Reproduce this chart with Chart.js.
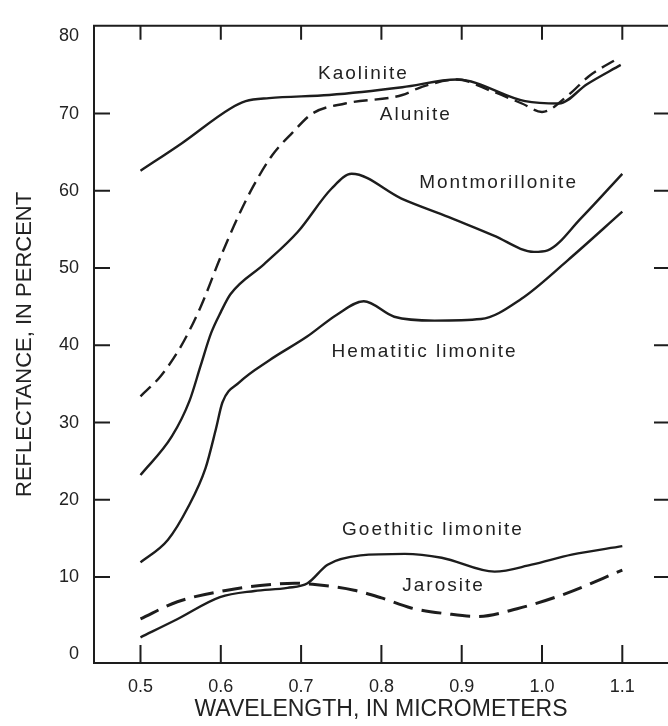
<!DOCTYPE html>
<html>
<head>
<meta charset="utf-8">
<script src="https://cdn.jsdelivr.net/npm/chart.js@4"></script>
<style>
  html, body { margin: 0; padding: 0; background: #fff; }
  #wrap { width: 668px; height: 726px; position: relative; }
</style>
</head>
<body>
<div id="wrap"><canvas id="spectra"></canvas></div>
<script>
// Reflectance spectra, wavelength in micrometers vs percent reflectance
const kaoliniteWl  = [0.50, 0.552, 0.611, 0.631, 0.66, 0.735, 0.826, 0.894, 0.979, 1.021, 1.056, 1.098];
const kaoliniteRef = [62.6, 66.2, 70.6, 71.6, 72.0, 72.4, 73.4, 74.4, 71.6, 71.3, 73.8, 76.3];

const aluniteWl  = [0.50, 0.525, 0.55, 0.575, 0.60, 0.62, 0.64, 0.664, 0.689, 0.714, 0.755, 0.826, 0.849, 0.894, 0.935, 0.975, 1.00, 1.034, 1.058, 1.097];
const aluniteRef = [33.4, 36.0, 39.8, 45.0, 51.5, 56.3, 60.5, 64.6, 67.5, 70.0, 71.3, 72.4, 73.4, 74.4, 73.0, 71.3, 70.2, 72.5, 74.8, 77.3];

const montmorilloniteWl  = [0.50, 0.539, 0.561, 0.575, 0.588, 0.600, 0.612, 0.654, 0.696, 0.738, 0.763, 0.825, 0.884, 0.94, 0.990, 1.007, 1.049, 1.100];
const montmorilloniteRef = [23.2, 28.2, 32.8, 37.4, 41.6, 44.3, 46.6, 50.5, 54.7, 60.3, 62.2, 59.0, 56.6, 54.2, 52.1, 52.3, 56.5, 62.2];

const hematiticWl  = [0.50, 0.534, 0.559, 0.581, 0.594, 0.602, 0.623, 0.661, 0.707, 0.745, 0.778, 0.816, 0.866, 0.924, 0.974, 1.032, 1.100];
const hematiticRef = [11.9, 14.8, 19.0, 24.1, 29.2, 32.6, 35.2, 38.1, 41.1, 44.0, 45.7, 43.7, 43.2, 43.4, 46.0, 51.0, 57.3];

const goethiticWl  = [0.50, 0.545, 0.599, 0.642, 0.683, 0.708, 0.733, 0.774, 0.829, 0.875, 0.941, 0.987, 1.037, 1.100];
const goethiticRef = [2.2, 4.5, 7.4, 8.2, 8.6, 9.2, 11.6, 12.8, 13.0, 12.5, 10.7, 11.6, 12.9, 14.0];

const jarositeWl  = [0.50, 0.546, 0.608, 0.649, 0.692, 0.720, 0.766, 0.800, 0.837, 0.885, 0.919, 0.969, 1.028, 1.100];
const jarositeRef = [4.6, 6.8, 8.3, 8.9, 9.2, 9.0, 8.3, 7.3, 6.0, 5.2, 4.9, 5.9, 7.8, 10.9];

const xTickValues = [0.5, 0.6, 0.7, 0.8, 0.9, 1.0, 1.1];
const yTickValues = [0, 10, 20, 30, 40, 50, 60, 70, 80];

// curve names, anchored at (wavelength, reflectance) of the text's left baseline
const curveNames = ['Kaolinite', 'Alunite', 'Montmorillonite', 'Hematitic limonite', 'Goethitic limonite', 'Jarosite'];
const nameWl  = [0.721, 0.798, 0.847, 0.738, 0.751, 0.826];
const nameRef = [74.5, 69.2, 60.3, 38.5, 15.5, 8.2];

const ink = '#1d1d1d';
const fontFamily = '"Liberation Sans", Arial, Helvetica, sans-serif';

const pts = (wl, r) => wl.map((w, i) => ({ x: w, y: r[i] }));

function curve(wl, r, dash, width) {
    return {
        data: pts(wl, r),
        borderColor: ink,
        borderWidth: width,
        borderDash: dash,
        pointRadius: 0,
        fill: false,
        cubicInterpolationMode: 'monotone'
    };
}

// frame, inward tick marks and curve names
const decorations = {
    id: 'decorations',
    afterDatasetsDraw(chart) {
        const { ctx, chartArea: a, scales: { x, y } } = chart;
        ctx.save();
        ctx.strokeStyle = ink;
        ctx.lineWidth = 2;
        ctx.lineCap = 'butt';
        ctx.beginPath();
        ctx.moveTo(a.right, a.top);
        ctx.lineTo(a.left, a.top);
        ctx.lineTo(a.left, a.bottom);
        ctx.lineTo(a.right, a.bottom);
        ctx.stroke();

        ctx.beginPath();
        xTickValues.forEach(v => {
            const px = x.getPixelForValue(v);
            ctx.moveTo(px, a.bottom); ctx.lineTo(px, a.bottom - 18);
            ctx.moveTo(px, a.top);    ctx.lineTo(px, a.top + 14);
        });
        yTickValues.filter(v => v > 0 && v < 80).forEach(v => {
            const py = y.getPixelForValue(v);
            ctx.moveTo(a.left, py);  ctx.lineTo(a.left + 16, py);
            ctx.moveTo(a.right, py); ctx.lineTo(a.right - 14, py);
        });
        ctx.stroke();

        ctx.fillStyle = '#222';
        ctx.font = '19px ' + fontFamily;
        ctx.textAlign = 'left';
        ctx.textBaseline = 'alphabetic';
        ctx.letterSpacing = '2px';
        curveNames.forEach((name, i) => {
            ctx.fillText(name, x.getPixelForValue(nameWl[i]), y.getPixelForValue(nameRef[i]));
        });
        ctx.restore();
    }
};

new Chart(document.getElementById('spectra'), {
    type: 'line',
    data: {
        datasets: [
            curve(kaoliniteWl, kaoliniteRef, [], 2.4),
            curve(aluniteWl, aluniteRef, [14, 7], 2.4),
            curve(montmorilloniteWl, montmorilloniteRef, [], 2.4),
            curve(hematiticWl, hematiticRef, [], 2.4),
            curve(goethiticWl, goethiticRef, [], 2.4),
            curve(jarositeWl, jarositeRef, [20, 9], 3)
        ]
    },
    options: {
        responsive: true,
        maintainAspectRatio: false,
        animation: false,
        events: [],
        layout: { padding: { top: 18, right: 0, left: 0, bottom: 0 } },
        plugins: {
            legend: { display: false },
            tooltip: { enabled: false }
        },
        scales: {
            x: {
                type: 'linear',
                min: 0.4421,
                max: 1.1569,
                grid: { display: false, drawTicks: false },
                border: { display: false },
                afterFit: s => { s.height = 63; },
                afterBuildTicks: s => { s.ticks = xTickValues.map(v => ({ value: v })); },
                ticks: {
                    padding: 13,
                    color: '#222',
                    font: { family: fontFamily, size: 18 },
                    callback: v => v.toFixed(1)
                },
                title: {
                    display: true,
                    text: 'WAVELENGTH, IN MICROMETERS',
                    color: '#222',
                    font: { family: fontFamily, size: 23 },
                    padding: { top: 0, bottom: 3 }
                }
            },
            y: {
                type: 'linear',
                min: -1.125,
                max: 81.36,
                grid: { display: false, drawTicks: false },
                border: { display: false },
                afterFit: s => { s.width = 94; },
                afterBuildTicks: s => { s.ticks = yTickValues.map(v => ({ value: v })); },
                ticks: {
                    padding: 15,
                    color: '#222',
                    font: { family: fontFamily, size: 18 },
                    callback: v => String(v)
                },
                title: {
                    display: true,
                    text: 'REFLECTANCE, IN PERCENT',
                    color: '#222',
                    font: { family: fontFamily, size: 22 },
                    padding: { top: 12, bottom: 0 }
                }
            }
        }
    },
    plugins: [decorations]
});
</script>
</body>
</html>
